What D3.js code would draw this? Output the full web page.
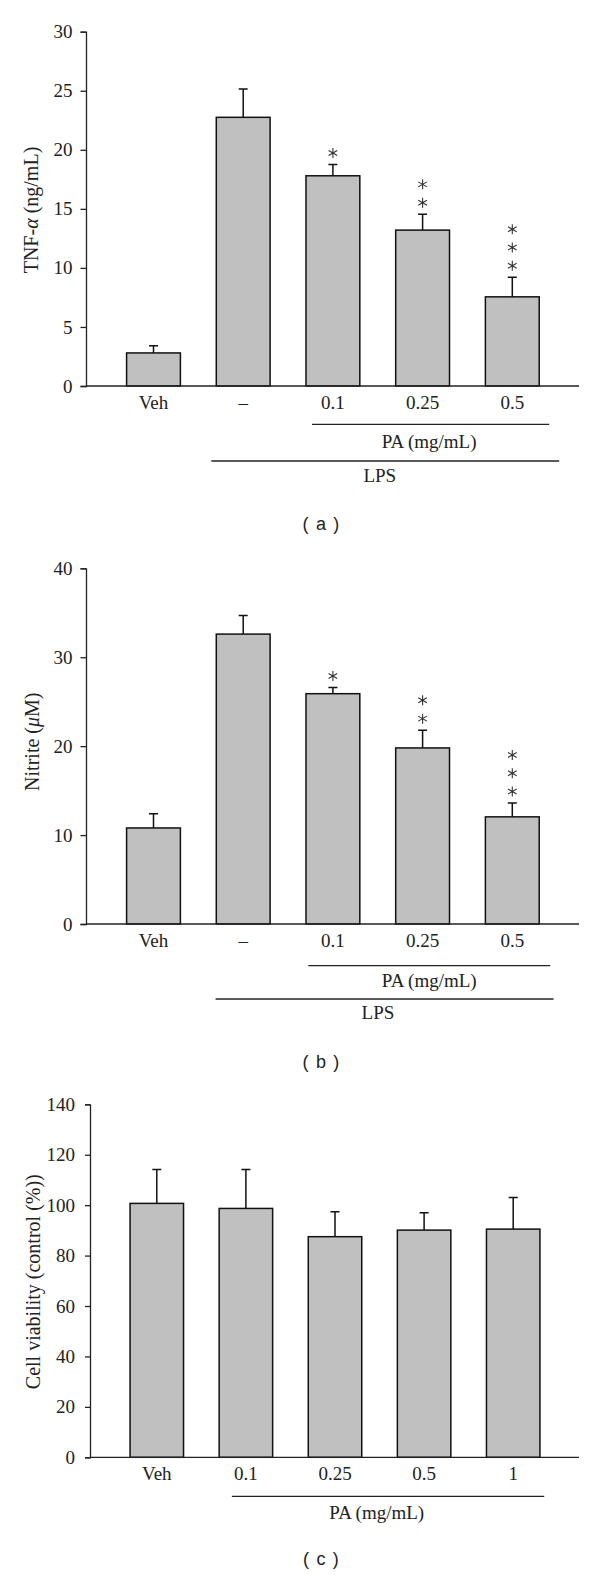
<!DOCTYPE html>
<html>
<head>
<meta charset="utf-8">
<script src="https://cdn.jsdelivr.net/npm/d3@7"></script>
<style>
  body { margin: 0; background: #fff; }
  svg text { fill: #222; }
  .serif { font-family: "Liberation Serif", "Times New Roman", serif; }
  .sans { font-family: "Liberation Sans", Arial, sans-serif; }
</style>
</head>
<body>
<div id="chart"></div>
<script>
// panels (a) and (b): same groups
const groupsAB = ["Veh", "\u2013", "0.1", "0.25", "0.5"];

const tnfMean = [2.8, 22.75, 17.8, 13.2, 7.55];
const tnfErr = [0.6, 2.4, 0.95, 1.35, 1.65];
const tnfStars = [0, 0, 1, 2, 3];
const tnfTicks = [0, 5, 10, 15, 20, 25, 30];

const nitriteMean = [10.8, 32.6, 25.9, 19.8, 12.05];
const nitriteErr = [1.6, 2.1, 0.7, 2.0, 1.55];
const nitriteStars = [0, 0, 1, 2, 3];
const nitriteTicks = [0, 10, 20, 30, 40];

// panel (c)
const groupsC = ["Veh", "0.1", "0.25", "0.5", "1"];
const viabMean = [100.7, 98.7, 87.5, 90.1, 90.5];
const viabErr = [13.4, 15.4, 9.9, 6.9, 12.5];
const viabTicks = [0, 20, 40, 60, 80, 100, 120, 140];

const svg = d3.select("#chart").append("svg")
  .attr("width", 600)
  .attr("height", 1575);

function drawPanel(p) {
  const g = svg.append("g");

  const x = d3.scaleBand()
    .domain(p.groups)
    .range(p.xRange)
    .paddingInner(0.4)
    .paddingOuter(0.2);

  const y = d3.scaleLinear()
    .domain([0, d3.max(p.ticks)])
    .range(p.yRange);

  // y axis
  const yAxis = g.append("g")
    .attr("transform", "translate(" + p.axisX + ",0)")
    .call(d3.axisLeft(y).tickValues(p.ticks).tickSizeOuter(0).tickSize(p.tickSize).tickPadding(p.tickPad));
  yAxis.select(".domain").attr("stroke", "#222").attr("stroke-width", 1.3);
  yAxis.selectAll(".tick line").attr("stroke", "#222").attr("stroke-width", 1.3);
  yAxis.selectAll(".tick text")
    .attr("class", "serif")
    .attr("font-size", 19)
    .attr("fill", "#222");

  // bars
  g.selectAll("rect.bar")
    .data(p.mean)
    .enter().append("rect")
    .attr("class", "bar")
    .attr("x", (d, i) => x(p.groups[i]))
    .attr("y", d => y(d))
    .attr("width", x.bandwidth())
    .attr("height", d => y(0) - y(d))
    .attr("fill", "#c0c0c0")
    .attr("stroke", "#111")
    .attr("stroke-width", 1.5);

  // error bars (upper only)
  const cx = i => x(p.groups[i]) + x.bandwidth() / 2;
  g.selectAll("path.err")
    .data(p.mean)
    .enter().append("path")
    .attr("class", "err")
    .attr("d", (d, i) => {
      const top = y(d + p.err[i]);
      return "M" + cx(i) + "," + y(d) + "V" + top + "M" + (cx(i) - 4.5) + "," + top + "H" + (cx(i) + 4.5);
    })
    .attr("fill", "none")
    .attr("stroke", "#111")
    .attr("stroke-width", 1.5);

  // x axis baseline
  g.append("line")
    .attr("x1", p.axisX).attr("x2", 579)
    .attr("y1", y(0)).attr("y2", y(0))
    .attr("stroke", "#222").attr("stroke-width", 1.3);

  // category labels
  g.selectAll("text.cat")
    .data(p.groups)
    .enter().append("text")
    .attr("class", "serif cat")
    .attr("x", d => x(d) + x.bandwidth() / 2)
    .attr("y", y(0) + 23)
    .attr("text-anchor", "middle")
    .attr("font-size", 19)
    .text(d => d);

  // significance stars
  if (p.stars) {
    const star = d3.symbol().type(d3.symbolAsterisk).size(70);
    p.stars.forEach((n, i) => {
      for (let k = 0; k < n; k++) {
        g.append("path")
          .attr("d", star)
          .attr("transform", "translate(" + cx(i) + "," + (y(p.mean[i] + p.err[i]) - 11.5 - k * 18.3) + ")")
          .attr("fill", "none")
          .attr("stroke", "#333")
          .attr("stroke-width", 1.1);
      }
    });
  }

  // group brackets
  p.brackets.forEach(b => {
    const x1 = x(b.from) + b.padL;
    const x2 = x(b.to) + x.bandwidth() + b.padR;
    g.append("line")
      .attr("x1", x1).attr("x2", x2)
      .attr("y1", y(0) + b.dy).attr("y2", y(0) + b.dy)
      .attr("stroke", "#222").attr("stroke-width", 1.3);
    g.append("text")
      .attr("class", "serif")
      .attr("x", (x1 + x2) / 2 + b.textDx)
      .attr("y", y(0) + b.dy + b.textDy)
      .attr("text-anchor", "middle")
      .attr("font-size", 19)
      .text(b.label);
  });

  // y label
  const yl = g.append("text")
    .attr("class", "serif")
    .attr("transform", "translate(" + p.labelX + "," + p.labelY + ") rotate(-90)")
    .attr("text-anchor", "middle")
    .attr("font-size", 20);
  p.yLabel.forEach(part => {
    yl.append("tspan").attr("font-style", part[1] ? "italic" : null).text(part[0]);
  });

  // panel caption
  g.append("text")
    .attr("class", "sans")
    .attr("x", 321.5)
    .attr("y", p.captionY)
    .attr("text-anchor", "middle")
    .attr("font-size", 18)
    .attr("letter-spacing", 1.2)
    .attr("fill", "#111")
    .text(p.caption);
}

drawPanel({
  groups: groupsAB, mean: tnfMean, err: tnfErr, stars: tnfStars, ticks: tnfTicks,
  xRange: [108.65, 557.15], yRange: [386, 31.7], axisX: 86, tickSize: 5.5, tickPad: 8,
  yLabel: [["TNF-", false], ["\u03b1", true], [" (ng/mL)", false]], labelX: 38, labelY: 210,
  brackets: [
    { from: "0.1", to: "0.5", label: "PA (mg/mL)", dy: 38.3, padL: 6, padR: 10, textDx: -1.5, textDy: 23.5 },
    { from: "\u2013", to: "0.5", label: "LPS", dy: 75, padL: -5, padR: 20, textDx: -5.5, textDy: 20.5 }
  ],
  caption: "( a )", captionY: 530
});

drawPanel({
  groups: groupsAB, mean: nitriteMean, err: nitriteErr, stars: nitriteStars, ticks: nitriteTicks,
  xRange: [108.65, 557.15], yRange: [924, 568.3], axisX: 86, tickSize: 5.5, tickPad: 8,
  yLabel: [["Nitrite (", false], ["\u03bc", true], ["M)", false]], labelX: 39, labelY: 741.7,
  brackets: [
    { from: "0.1", to: "0.5", label: "PA (mg/mL)", dy: 41.7, padL: 2.3, padR: 11, textDx: 0, textDy: 21.5 },
    { from: "\u2013", to: "0.5", label: "LPS", dy: 75, padL: -0.7, padR: 14.3, textDx: -6.6, textDy: 20 }
  ],
  caption: "( b )", captionY: 1068
});

drawPanel({
  groups: groupsC, mean: viabMean, err: viabErr, stars: null, ticks: viabTicks,
  xRange: [112.25, 557.75], yRange: [1457.3, 1104.3], axisX: 90, tickSize: 5, tickPad: 10,
  yLabel: [["Cell viability (control (%))", false]], labelX: 39.5, labelY: 1281.7,
  brackets: [
    { from: "0.1", to: "1", label: "PA (mg/mL)", dy: 39, padL: 12.7, padR: 4.3, textDx: -11.3, textDy: 23 }
  ],
  caption: "( c )", captionY: 1565
});
</script>
</body>
</html>
